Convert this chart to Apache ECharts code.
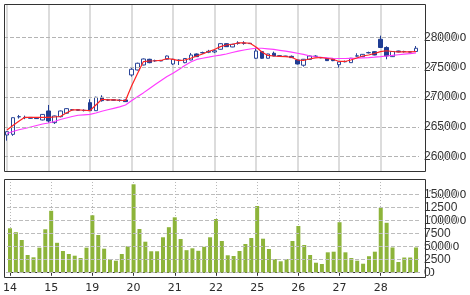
<!DOCTYPE html>
<html>
<head>
<meta charset="utf-8">
<script src="https://cdn.jsdelivr.net/npm/echarts@6/dist/echarts.min.js"></script>
<style>
html,body{margin:0;padding:0;background:#fff;}
#chart{width:470px;height:295px;}
</style>
</head>
<body>
<div id="chart"></div>
<script>
// ---- data ----
const days = ['14','15','19','20','21','22','25','26','27','28'];
const slotsPerDay = 7;

const opens = [
26364,26375,26670,26655,26660,26655,26617,
26768,26572,26672,26730,26785,26790,26775,
26908,26773,26998,26950,26955,26945,26953,
27373,27457,27541,27637,27610,27615,27637,
27558,27620,27580,27625,27726,27745,27755,
27760,27805,27899,27844,27905,27910,27905,
27654,27765,27654,27738,27695,27690,27686,
27625,27537,27635,27685,27668,27654,27640,
27546,27595,27580,27690,27681,27745,27765,
27973,27835,27681,27776,27765,27762,27768];
const closes = [
26420,26655,26672,26660,26645,26640,26710,
26600,26684,26768,26807,26790,26780,26780,
26773,26998,26941,26955,26950,26950,26925,
27469,27570,27642,27580,27615,27610,27692,
27637,27622,27650,27709,27681,27750,27770,
27780,27899,27849,27889,27910,27905,27900,
27776,27654,27726,27692,27690,27685,27665,
27558,27637,27692,27690,27662,27614,27614,
27592,27600,27654,27695,27720,27750,27709,
27835,27692,27768,27760,27768,27758,27822];
const lows = [
26269,26350,26640,26630,26640,26635,26610,
26572,26549,26660,26720,26770,26775,26760,
26768,26768,26925,26935,26945,26925,26920,
27345,27450,27535,27570,27595,27605,27630,
27541,27541,27570,27620,27675,27730,27740,
27740,27800,27845,27840,27882,27882,27895,
27642,27645,27650,27688,27685,27680,27660,
27550,27513,27630,27675,27655,27608,27605,
27496,27585,27575,27680,27675,27735,27705,
27830,27637,27675,27755,27750,27755,27765];
const highs = [
26430,26660,26701,26690,26665,26660,26715,
26869,26690,26775,26815,26800,26795,26795,
26965,27008,27032,26970,26960,26965,26960,
27503,27580,27650,27645,27630,27620,27700,
27645,27635,27655,27743,27735,27765,27795,
27805,27905,27905,27895,27940,27940,27910,
27832,27770,27730,27765,27700,27695,27700,
27630,27642,27700,27705,27672,27660,27645,
27598,27615,27660,27738,27725,27765,27770,
28034,27855,27775,27780,27780,27765,27860];
const shortAvg = [
26448,26524,26595,26662,26659,26659,26659,
26659,26667,26675,26734,26785,26785,26780,
26773,26869,26965,26953,26953,26948,26944,
27185,27395,27597,27608,27612,27617,27650,
27634,27613,27625,27654,27692,27726,27768,
27802,27849,27877,27889,27911,27911,27906,
27844,27760,27701,27692,27687,27681,27671,
27625,27617,27642,27659,27667,27650,27637,
27600,27600,27625,27659,27692,27709,27734,
27765,27780,27768,27760,27760,27760,27768];
const longAvg = [
26390,26423,26452,26474,26499,26524,26549,
26566,26591,26625,26650,26675,26696,26704,
26712,26734,26763,26788,26813,26838,26869,
26938,27007,27072,27143,27212,27281,27348,
27402,27465,27533,27592,27634,27654,27672,
27692,27706,27726,27751,27773,27793,27810,
27822,27822,27813,27802,27788,27773,27756,
27738,27718,27696,27679,27669,27660,27654,
27650,27650,27652,27654,27659,27664,27672,
27681,27692,27702,27713,27723,27733,27743];
const volumes = [
8540,7790,6290,3400,2960,4810,8350,
11900,5750,4170,3600,3270,2830,4810,
11040,7250,4620,2580,2310,3600,5080,
17000,8400,5960,4120,4120,6810,8750,
10650,6480,4330,4690,4210,4980,6810,
10330,6100,3350,3210,4170,5520,6670,
12830,6540,4560,2630,2190,2630,6100,
8980,5330,3400,1920,1670,3920,4040,
9710,3920,2830,2310,1730,3170,4040,
12480,9600,4850,2060,2920,2920,4850];
const priceTicks = [26000,26500,27000,27500,28000];
const volTicks = [0,2500,5000,7500,10000,12500,15000];
const volLabels = [0,5000,10000,15000];

// ---- layout ----
const F1 = {left: 4, top: 4, width: 421, height: 167};
const F2 = {left: 4, top: 179, width: 421, height: 98};
const plotWidth = 415;

// ---- build ----
const cats = [];
days.forEach(d => { for (let k = 0; k < slotsPerDay; k++) cats.push(d + '/' + (k + 1)); });
const candles = opens.map((o, i) => [o, closes[i], lows[i], highs[i]]);
const dayStart = (i) => i % slotsPerDay === 0;
const dayCats = cats.filter((c, i) => dayStart(i));
const font = 'DejaVu Sans, Verdana, sans-serif';
const txt = '#2a2a2a';

const vLines = (style) => dayCats.map(c => ({xAxis: c, lineStyle: style}));
const hLines = (vals, style) => vals.map(v => ({yAxis: v, lineStyle: style}));
const frame = (p) => ({type: 'rect', z: 100, silent: true,
  shape: {x: p.left + 0.5, y: p.top + 0.5, width: p.width, height: p.height},
  style: {fill: null, stroke: '#333', lineWidth: 1}});

const chart = echarts.init(document.getElementById('chart'));
chart.setOption({
  animation: false,
  backgroundColor: '#fff',
  grid: [
    {left: F1.left, top: F1.top, width: plotWidth, height: F1.height},
    {left: F2.left, top: F2.top, width: plotWidth, height: F2.height}
  ],
  graphic: [frame(F1), frame(F2)],
  xAxis: [
    {type: 'category', gridIndex: 0, data: cats,
     axisLine: {show: false}, axisTick: {show: false}, axisLabel: {show: false}, splitLine: {show: false}},
    {type: 'category', gridIndex: 1, data: cats,
     axisLine: {show: true, lineStyle: {color: '#333', width: 1}},
     axisTick: {show: true, interval: dayStart, alignWithLabel: true, length: 3, lineStyle: {color: '#333'}},
     axisLabel: {interval: dayStart, formatter: v => v.split('/')[0], margin: 6, fontSize: 11, fontFamily: font, color: txt},
     splitLine: {show: true, interval: dayStart, alignWithLabel: true, lineStyle: {color: '#b8b8b8', type: [1, 2], width: 1}}}
  ],
  yAxis: [
    {type: 'value', gridIndex: 0, position: 'right', min: 25759, max: 28566,
     axisLine: {show: false}, axisTick: {show: false},
     axisLabel: {customValues: priceTicks, margin: 9, fontSize: 11, fontFamily: font, color: txt},
     splitLine: {show: false}},
    {type: 'value', gridIndex: 1, position: 'right', min: -827, max: 18019,
     axisLine: {show: false}, axisTick: {show: false},
     axisLabel: {customValues: volLabels, margin: 9, fontSize: 11, fontFamily: font, color: txt},
     splitLine: {show: false}}
  ],
  series: [
    {type: 'candlestick', xAxisIndex: 0, yAxisIndex: 0, data: candles, barWidth: 4, z: 3,
     itemStyle: {color: '#ffffff', color0: '#1f3c93', borderColor: '#2b4699', borderColor0: '#1f3c93', borderWidth: 1}},
    {type: 'line', xAxisIndex: 0, yAxisIndex: 0, data: longAvg, symbol: 'none', z: 4,
     lineStyle: {color: '#ff3cff', width: 1.2},
     markLine: {symbol: 'none', z: 1, label: {show: false},
       data: vLines({color: '#dcdcdc', type: 'solid', width: 2})}},
    {type: 'line', xAxisIndex: 0, yAxisIndex: 0, data: shortAvg, symbol: 'none', z: 5,
     lineStyle: {color: '#ff2222', width: 1.2},
     markLine: {symbol: 'none',
       data: hLines(priceTicks, {color: '#b4b4b4', type: 'dashed', width: 1})}},
    {type: 'bar', xAxisIndex: 1, yAxisIndex: 1, data: volumes, barWidth: 4, z: 3,
     itemStyle: {color: '#8db43a'},
     markLine: {symbol: 'none',
       data: hLines(volTicks, {color: '#bcbcbc', type: 'dashed', width: 1})}}
  ]
});
</script>
</body>
</html>
